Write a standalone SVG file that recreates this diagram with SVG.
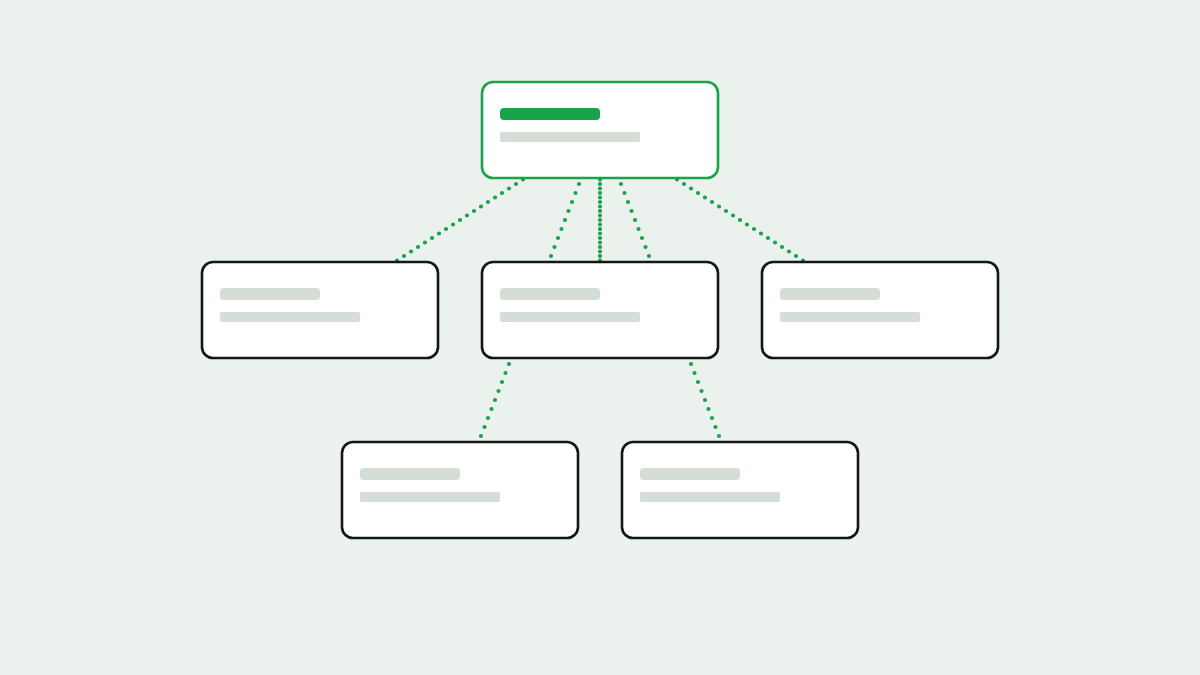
<svg xmlns="http://www.w3.org/2000/svg" width="1200" height="675" viewBox="0 0 1200 675">
  <style>
    .edge { fill: none; stroke: #1aa34a; stroke-width: 4.2; stroke-linecap: round; stroke-dasharray: 0 1; }
    .card { fill: #ffffff; stroke: #131815; stroke-width: 2.6; }
    .root { fill: #ffffff; stroke: #1aa34a; stroke-width: 2.6; }
    .bar { fill: #d4ded6; }
    .accent { fill: #1aa34a; }
  </style>
  <rect x="0" y="0" width="1200" height="675" fill="#ebf1ed"/>
  <g id="connectors">
    <line class="edge" pathLength="40" x1="600" y1="130" x2="320" y2="310"/>
    <line class="edge" pathLength="40" x1="600" y1="130" x2="600" y2="310"/>
    <line class="edge" pathLength="40" x1="600" y1="130" x2="880" y2="310"/>
    <line class="edge" pathLength="40" x1="600" y1="130" x2="460" y2="490"/>
    <line class="edge" pathLength="40" x1="600" y1="130" x2="740" y2="490"/>
  </g>
  <g id="node-root">
    <rect class="root" x="482" y="82" width="236" height="96" rx="11"/>
    <rect class="accent" x="500" y="108" width="100" height="12" rx="4"/>
    <rect class="bar" x="500" y="132" width="140" height="10" rx="2"/>
  </g>
  <g id="node-left">
    <rect class="card" x="202" y="262" width="236" height="96" rx="11"/>
    <rect class="bar" x="220" y="288" width="100" height="12" rx="4"/>
    <rect class="bar" x="220" y="312" width="140" height="10" rx="2"/>
  </g>
  <g id="node-middle">
    <rect class="card" x="482" y="262" width="236" height="96" rx="11"/>
    <rect class="bar" x="500" y="288" width="100" height="12" rx="4"/>
    <rect class="bar" x="500" y="312" width="140" height="10" rx="2"/>
  </g>
  <g id="node-right">
    <rect class="card" x="762" y="262" width="236" height="96" rx="11"/>
    <rect class="bar" x="780" y="288" width="100" height="12" rx="4"/>
    <rect class="bar" x="780" y="312" width="140" height="10" rx="2"/>
  </g>
  <g id="node-bottom-left">
    <rect class="card" x="342" y="442" width="236" height="96" rx="11"/>
    <rect class="bar" x="360" y="468" width="100" height="12" rx="4"/>
    <rect class="bar" x="360" y="492" width="140" height="10" rx="2"/>
  </g>
  <g id="node-bottom-right">
    <rect class="card" x="622" y="442" width="236" height="96" rx="11"/>
    <rect class="bar" x="640" y="468" width="100" height="12" rx="4"/>
    <rect class="bar" x="640" y="492" width="140" height="10" rx="2"/>
  </g>
</svg>
